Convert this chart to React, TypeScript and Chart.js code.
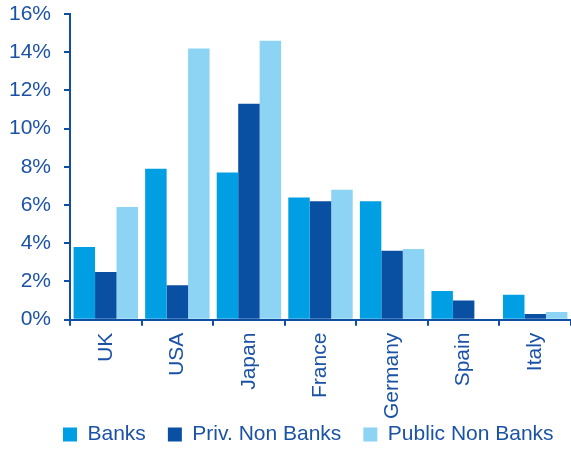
import React, { useEffect, useRef } from "react";
import { Chart, registerables } from "chart.js";

Chart.register(...registerables);

const categories = ["UK", "USA", "Japan", "France", "Germany", "Spain", "Italy"];
const banks = [3.8, 7.9, 7.7, 6.4, 6.2, 1.5, 1.3];
const privNonBanks = [2.5, 1.8, 11.3, 6.2, 3.6, 1.0, 0.3];
const publicNonBanks = [5.9, 14.2, 14.6, 6.8, 3.7, 0, 0.4];
const seriesNames = ["Banks", "Priv. Non Banks", "Public Non Banks"];

const TEXT = "#1b52a6";
const AXIS = "#0e4ea3";
const FONT = "'Liberation Sans', Arial, sans-serif";
const LEGEND_PAD = 22;

const legendShift = {
  id: "legendShift",
  afterLayout(chart: any) {
    const lg = chart.legend;
    if (lg) {
      const dx = 63 - LEGEND_PAD;
      const dy = -24;
      lg.left += dx;
      lg.right += dx;
      lg.top += dy;
      lg.bottom += dy;
    }
  },
};

export default function App() {
  const ref = useRef<HTMLCanvasElement>(null);
  useEffect(() => {
    document.body.style.margin = "0";
    if (!ref.current) return;
    const chart = new Chart(ref.current, {
      type: "bar",
      data: {
        labels: categories,
        datasets: [
          { label: seriesNames[0], data: banks, backgroundColor: "#009fe3" },
          { label: seriesNames[1], data: privNonBanks, backgroundColor: "#0a50a2" },
          { label: seriesNames[2], data: publicNonBanks, backgroundColor: "#8dd3f3" },
        ],
      },
      options: {
        animation: false,
        responsive: false,
        maintainAspectRatio: false,
        layout: { padding: { top: 0, left: 0, right: 0, bottom: -29 } },
        datasets: { bar: { categoryPercentage: 0.9, barPercentage: 1.0 } },
        plugins: {
          tooltip: { enabled: false },
          legend: {
            position: "bottom",
            align: "start",
            labels: {
              boxWidth: 14,
              boxHeight: 14,
              padding: LEGEND_PAD,
              color: TEXT,
              font: { family: FONT, size: 21 },
            },
          },
        },
        scales: {
          x: {
            grid: {
              display: true,
              drawOnChartArea: false,
              drawTicks: true,
              tickLength: 6,
              color: AXIS,
              lineWidth: 2,
              offset: true,
            },
            border: { color: AXIS, width: 2 },
            ticks: {
              color: TEXT,
              font: { family: FONT, size: 21 },
              minRotation: 90,
              maxRotation: 90,
              padding: 7,
              autoSkip: false,
            },
          },
          y: {
            min: 0,
            max: 16,
            afterFit: (s: any) => {
              s.width = 70;
              s.paddingTop = 14;
            },
            grid: {
              display: true,
              drawOnChartArea: false,
              drawTicks: true,
              tickLength: 6,
              color: AXIS,
              lineWidth: 2,
            },
            border: { color: AXIS, width: 2 },
            ticks: {
              stepSize: 2,
              color: TEXT,
              padding: 13,
              font: { family: FONT, size: 21 },
              callback: (v: any) => v + "%",
            },
          },
        },
      },
      plugins: [legendShift],
    });
    return () => chart.destroy();
  }, []);
  return (
    <div style={{ width: 571, height: 450 }}>
      <canvas ref={ref} width={571} height={450} style={{ display: "block" }} />
    </div>
  );
}
